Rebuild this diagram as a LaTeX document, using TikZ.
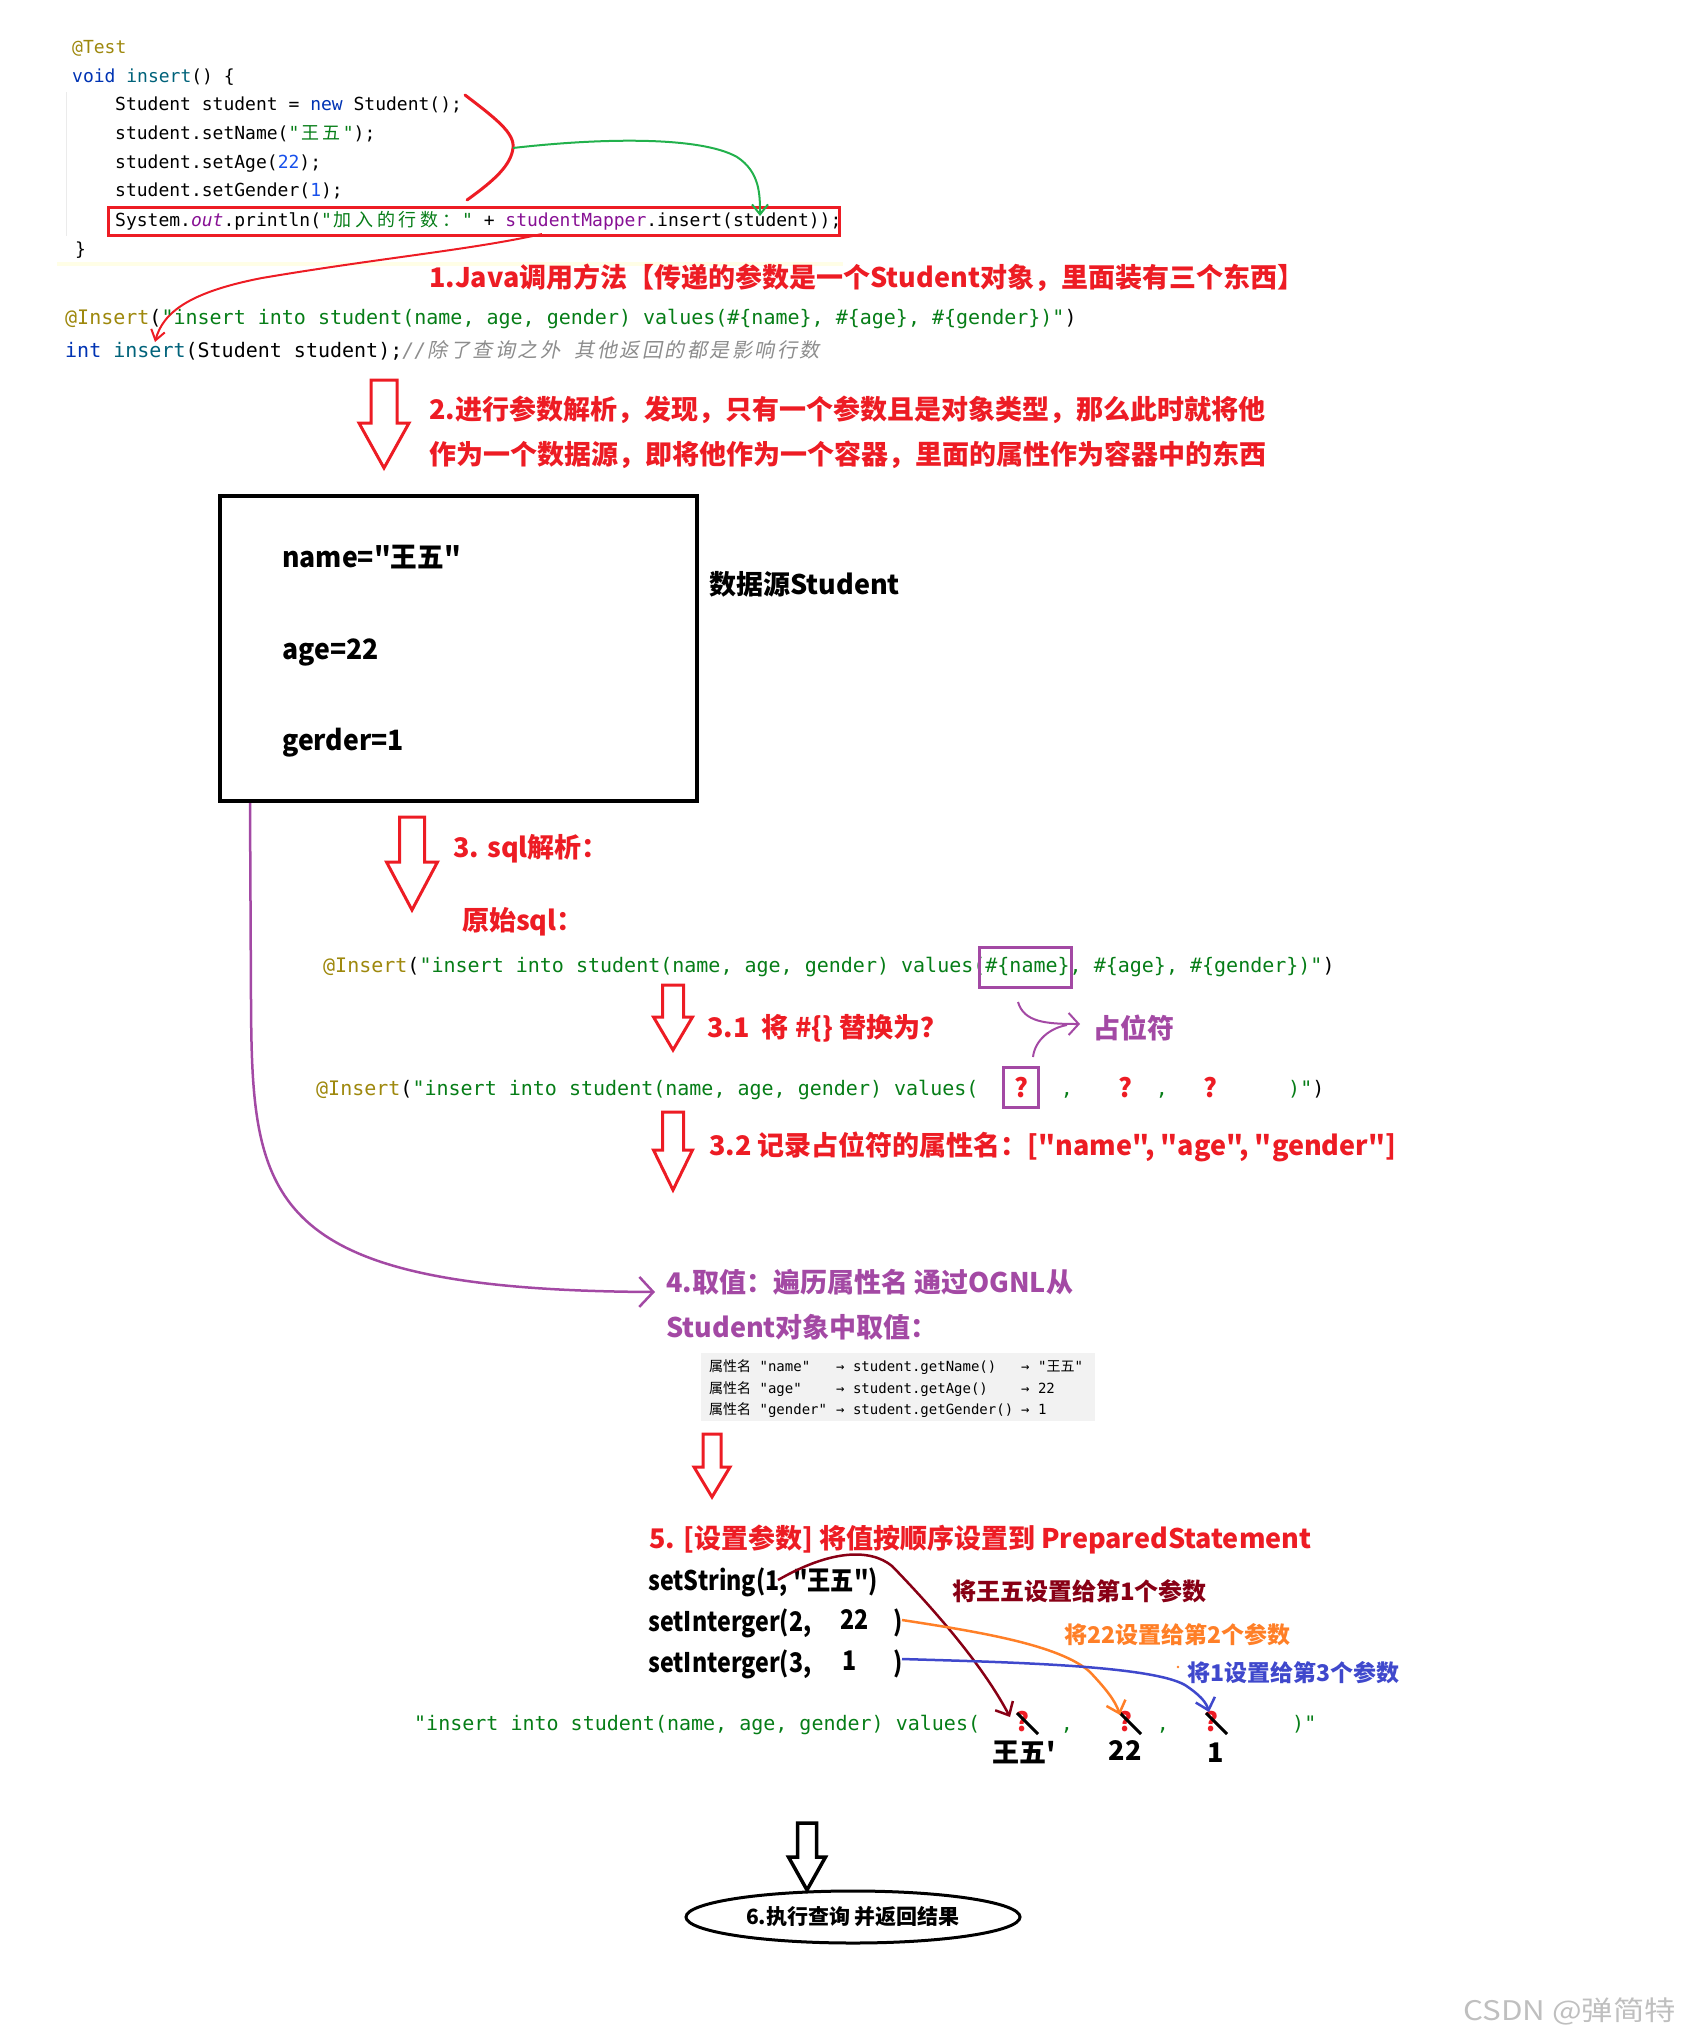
\documentclass[tikz,border=0pt]{standalone}
\usepackage{fontspec}
\usetikzlibrary{arrows.meta,shapes.geometric}
\newfontfamily\cjk{Noto Sans CJK SC}
\newfontfamily\cjkit{Noto Sans CJK SC}[FakeSlant=0.2]
\newfontfamily\mono{DejaVu Sans Mono}
\definecolor{pred}{HTML}{ED1C24}
\definecolor{ppurple}{HTML}{A349A4}
\definecolor{pgreen}{HTML}{22B14C}
\definecolor{porange}{HTML}{FF7F27}
\definecolor{pblue}{HTML}{3F48CC}
\definecolor{pdred}{HTML}{880015}
\definecolor{cgold}{HTML}{9E880D}
\definecolor{ckw}{HTML}{0033B3}
\definecolor{cstr}{HTML}{067D17}
\definecolor{cnum}{HTML}{1750EB}
\definecolor{cfield}{HTML}{871094}
\definecolor{cmeth}{HTML}{00627A}
\definecolor{ccomment}{HTML}{8C8C8C}
\definecolor{tblbg}{HTML}{F2F2F2}
\makeatletter
\newcommand\cjkcells[3]{\@tfor\cjk@ch:=#3\do{\makebox[#1][c]{#2\cjk@ch}}}
\makeatother
\newcommand\narrow[1]{\scalebox{0.86}[1]{#1}}
% style, cx, top, shaft bottom, shaft half width, head half width, tip
\newcommand\hollowdown[7]{\draw[#1] ({#2-#5},#3) -- ({#2+#5},#3) -- ({#2+#5},#4) -- ({#2+#6},#4) -- (#2,#7) -- ({#2-#6},#4) -- ({#2-#5},#4) -- cycle;}
\begin{document}
\begin{tikzpicture}[x=1pt,y=-1pt,
  tcode/.style={anchor=base west, inner sep=0, font=\mono\fontsize{18}{22}\selectfont},
  code/.style={anchor=base west, inner sep=0, font=\mono\fontsize{20}{24}\selectfont},
  hdtext/.style={anchor=base west, inner sep=0, text=pred, font=\cjk\bfseries\fontsize{27}{32}\selectfont},
  pdtext/.style={hdtext, text=ppurple},
  btext/.style={anchor=base west, inner sep=0, font=\cjk\bfseries\fontsize{27}{32}\selectfont},
  cjknote/.style={anchor=base west, inner sep=0, font=\cjk\bfseries\fontsize{24}{28}\selectfont},
  tbltext/.style={anchor=base west, inner sep=0, font=\mono\fontsize{14}{16}\selectfont},
  qmark/.style={anchor=base, inner sep=0, text=pred, font=\cjk\bfseries\fontsize{26}{30}\selectfont},
  redarrow/.style={draw=pred, line width=3pt, line join=miter},
  blackarrow/.style={draw=black, line width=3.5pt, line join=miter},
  barb/.style={-{Straight Barb[length=11pt,width=20pt]}}
]
\useasboundingbox (0,0) rectangle (1685,2041);

% ---------- top code ----------
\draw[black!8, line width=1pt] (66,92) -- (66,236);
\fill[yellow!10] (57,262) rectangle (843,266);
\node[tcode] (t1) at (72,54) {\color{cgold}@Test};
\node[tcode] (t2) at (72,83) {{\color{ckw}void} {\color{cmeth}insert}() \{};
\node[tcode] (t3) at (115,111) {Student student = {\color{ckw}new} Student();};
\node[tcode] (t4) at (115,140) {student.setName({\color{cstr}"\cjkcells{21.7pt}{\cjk}{王五}"});};
\node[tcode] (t5) at (115,169) {student.setAge({\color{cnum}22});};
\node[tcode] (t6) at (115,197) {student.setGender({\color{cnum}1});};
\node[tcode] (t7) at (115,227) {System.{\color{cfield}\itshape out}.println({\color{cstr}"\cjkcells{21.7pt}{\cjk}{加入的行数：}"} + {\color{cfield}studentMapper}.insert(student));};
\node[tcode] (t8) at (75,256) {\}};
\node[draw=pred, line width=3pt, minimum width=731pt, minimum height=28pt, inner sep=0] (rbox) at (473.5,222) {};

\coordinate (rc1) at (465,95);
\coordinate (rc2) at (513,148);
\coordinate (rc3) at (467,200);
\draw[pred, line width=3pt, line cap=round] (rc1) .. controls (495,118) and (515,133) .. (rc2) .. controls (511,165) and (495,180) .. (rc3);
\coordinate (gend) at (760,216);
\draw[pgreen, line width=2pt, -{Straight Barb[length=10pt,width=16pt]}] (rc2) .. controls (600,138) and (700,136) .. (737,157) .. controls (760,172) and (760,195) .. (gend);

\coordinate (ra) at (542,234);
\coordinate (rb) at (155,342);
\draw[pred, line width=2pt, -{Straight Barb[length=10pt,width=14pt]}] (ra) .. controls (470,250) and (380,258) .. (262,278) .. controls (190,292) and (163,312) .. (rb);

\node[hdtext] (h1) at (429,288) {1.Java调用方法【传递的参数是一个Student对象，里面装有三个东西】};

\node[code] (i1) at (65,324) {{\color{cgold}@Insert}({\color{cstr}"insert into student(name, age, gender) values(\#\{name\}, \#\{age\}, \#\{gender\})"})};
\node[code] (i2) at (65,357) {{\color{ckw}int} {\color{cmeth}insert}(Student student);{\color{ccomment}\itshape //\cjkcells{22.5pt}{\cjkit}{除了查询之外}\ \cjkcells{22.5pt}{\cjkit}{其他返回的都是影响行数}}};

% ---------- step 2 ----------
\hollowdown{redarrow}{384}{380}{423}{13}{25}{468}
\node[hdtext] (h2a) at (429,419) {2.进行参数解析，发现，只有一个参数且是对象类型，那么此时就将他};
\node[hdtext] (h2b) at (429,464) {作为一个数据源，即将他作为一个容器，里面的属性作为容器中的东西};

\node[draw, line width=3.5pt, minimum width=477pt, minimum height=305pt, inner sep=0] (ds) at (458.5,648.5) {};
\node[btext, font=\cjk\bfseries\fontsize{28}{32}\selectfont] (dn) at (282,567) {\scalebox{0.95}[1]{name="王五"}};
\node[btext, font=\cjk\bfseries\fontsize{28}{32}\selectfont] (da) at (282,659) {\scalebox{0.95}[1]{age=22}};
\node[btext, font=\cjk\bfseries\fontsize{28}{32}\selectfont] (dg) at (282,750) {\scalebox{0.95}[1]{gerder=1}};
\node[btext] (dl) at (709,594) {数据源Student};

% ---------- step 3 ----------
\coordinate (pstart) at (250,803);
\coordinate (pend) at (655,1292);
\draw[ppurple, line width=2.5pt, -{Straight Barb[length=14pt,width=30pt]}] (pstart) -- (251,1000) .. controls (252,1200) and (262,1290) .. (pend);

\hollowdown{redarrow}{412}{817}{862}{12.5}{25.5}{910}
\node[hdtext] (h3) at (453,857) {3. sql解析：};
\node[hdtext] (h3b) at (462,930) {原始sql：};
\node[code] (s1) at (323,972) {{\color{cgold}@Insert}({\color{cstr}"insert into student(name, age, gender) values(\#\{name\}, \#\{age\}, \#\{gender\})"})};
\node[draw=ppurple, line width=3pt, minimum width=92pt, minimum height=40pt, inner sep=0] (phbox) at (1025,967) {};

\hollowdown{redarrow}{673}{985}{1017}{10.5}{19.5}{1050}
\node[hdtext] (h31) at (707,1037) {3.1\ \ 将 \#\{\} 替换为？};
\coordinate (pa1) at (1018,1002);
\coordinate (pa2) at (1080,1024);
\coordinate (pa3) at (1033,1057);
\draw[ppurple, line width=2pt, -{Straight Barb[length=10pt,width=22pt]}] (pa1) .. controls (1024,1022) and (1045,1024) .. (pa2);
\draw[ppurple, line width=2pt] (pa3) .. controls (1035,1040) and (1050,1028) .. (1067,1025);
\node[pdtext] (ph) at (1093,1038) {占位符};

\node[code] (s2) at (316,1095) {{\color{cgold}@Insert}({\color{cstr}"insert into student(name, age, gender) values(}};
\node[draw=ppurple, line width=3pt, minimum width=35pt, minimum height=40pt, inner sep=0] (qbox) at (1020.5,1087) {};
\node[qmark] (q1) at (1021,1097) {?};
\node[code, anchor=base, text=cstr] (k1) at (1067,1095) {,};
\node[qmark] (q2) at (1125,1097) {?};
\node[code, anchor=base, text=cstr] (k2) at (1162,1095) {,};
\node[qmark] (q3) at (1210,1097) {?};
\node[code] (e2) at (1288,1095) {{\color{cstr})"})};

\hollowdown{redarrow}{673}{1112}{1150}{10.5}{19.5}{1190}
\node[hdtext] (h32) at (709,1155) {3.2 记录占位符的属性名：["name", "age", "gender"]};

% ---------- step 4 ----------
\node[pdtext] (h4a) at (666,1292) {4.取值：遍历属性名 通过OGNL从};
\node[pdtext] (h4b) at (666,1337) {Student对象中取值：};

\node[fill=tblbg, minimum width=394pt, minimum height=68pt, inner sep=0] (tbl) at (897.5,1387) {};
\node[tbltext] (r1a) at (709,1371) {{\cjk 属性名} "name"};
\node[tbltext] (r1b) at (836,1371) {→ student.getName()};
\node[tbltext] (r1c) at (1021,1371) {→ "{\cjk 王五}"};
\node[tbltext] (r2a) at (709,1393) {{\cjk 属性名} "age"};
\node[tbltext] (r2b) at (836,1393) {→ student.getAge()};
\node[tbltext] (r2c) at (1021,1393) {→ 22};
\node[tbltext] (r3a) at (709,1414) {{\cjk 属性名} "gender"};
\node[tbltext] (r3b) at (836,1414) {→ student.getGender()};
\node[tbltext] (r3c) at (1021,1414) {→ 1};

% ---------- step 5 ----------
\hollowdown{redarrow}{712}{1434}{1467}{9}{18}{1497}
\node[hdtext] (h5) at (649,1548) {5. [设置参数] 将值按顺序设置到 PreparedStatement};
\node[btext] (p1) at (648,1590) {\narrow{setString(1, "王五")}};
\node[btext] (p2) at (648,1631) {\narrow{setInterger(2,}};
\node[btext] (p2v) at (840,1629) {\narrow{22}};
\node[btext] (p2e) at (893,1631) {\narrow{)}};
\node[btext] (p3) at (648,1672) {\narrow{setInterger(3,}};
\node[btext] (p3v) at (842,1670) {\narrow{1}};
\node[btext] (p3e) at (893,1672) {\narrow{)}};

\node[cjknote, text=pdred] (n1) at (952,1600) {将王五设置给第1个参数};
\node[cjknote, text=porange, font=\cjk\bfseries\fontsize{23}{28}\selectfont] (n2) at (1064,1643) {将22设置给第2个参数};
\node[cjknote, text=pblue, font=\cjk\bfseries\fontsize{23}{28}\selectfont] (n3) at (1187,1681) {将1设置给第3个参数};
\fill[porange] (1178,1667) circle (1.3pt);

\node[code] (b1) at (414,1730) {{\color{cstr}"insert into student(name, age, gender) values(}};
\node[qmark] (bq1) at (1022,1731) {?};
\node[code, anchor=base, text=cstr] (bk1) at (1067,1730) {,};
\node[qmark] (bq2) at (1125,1731) {?};
\node[code, anchor=base, text=cstr] (bk2) at (1163,1730) {,};
\node[qmark] (bq3) at (1211,1731) {?};
\node[code, text=cstr] (be) at (1292,1730) {)"};
\foreach \qx in {1022,1125,1211}{\draw[black, line width=3pt] ({\qx-5},1713) -- ({\qx+16},1734);}
\node[btext, anchor=base] (v1) at (1024,1762) {王五'};
\node[btext, anchor=base] (v2) at (1125,1760) {22};
\node[btext, anchor=base] (v3) at (1216,1762) {1};

\coordinate (dr1) at (778,1580);
\coordinate (dr2) at (1010,1717);
\draw[pdred, line width=2.5pt, barb] (dr1) .. controls (830,1550) and (870,1548) .. (892,1566) .. controls (925,1600) and (980,1660) .. (dr2);
\coordinate (or1) at (902,1620);
\coordinate (or2) at (1120,1715);
\draw[porange, line width=2.5pt, barb] (or1) .. controls (980,1632) and (1060,1645) .. (1090,1672) .. controls (1105,1688) and (1115,1700) .. (or2);
\coordinate (bl1) at (902,1659);
\coordinate (bl2) at (1209,1712);
\draw[pblue, line width=2.5pt, barb] (bl1) .. controls (1000,1662) and (1150,1665) .. (1185,1685) .. controls (1200,1695) and (1206,1702) .. (bl2);

% ---------- step 6 ----------
\hollowdown{blackarrow}{807}{1823}{1857}{9.5}{18.5}{1890}
\node[ellipse, draw, line width=3pt, minimum width=334pt, minimum height=52pt, inner sep=0, font=\cjk\bfseries\fontsize{21}{24}\selectfont] (res) at (853,1917) {6.执行查询 并返回结果};

\node[anchor=base west, inner sep=0, text=black!25, font=\cjk\fontsize{27}{30}\selectfont] (wm) at (1463,2020) {\scalebox{1.16}[1]{CSDN @弹简特}};
\end{tikzpicture}
\end{document}
